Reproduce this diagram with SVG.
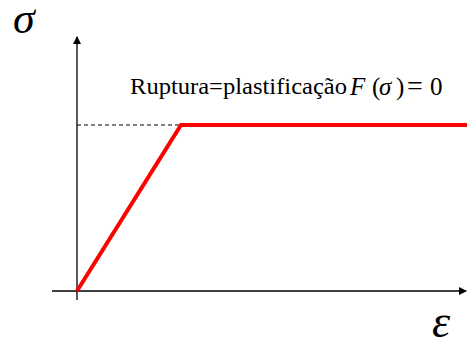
<svg xmlns="http://www.w3.org/2000/svg" width="467" height="343" viewBox="0 0 467 343">
<style>
.ax{stroke:#000;stroke-width:1.3;fill:none}
.t{font-family:"Liberation Serif","Times New Roman",serif;fill:#000}
.i{font-style:italic}
</style>
<defs>
<marker id="ah" markerWidth="8" markerHeight="8" refX="7" refY="4" orient="auto" markerUnits="userSpaceOnUse">
<path d="M0,0 L8,4 L0,8 Z" fill="#000"/>
</marker>
</defs>
<rect width="467" height="343" fill="#fff"/>
<g id="connectors">
<line class="ax" x1="77" y1="300" x2="77" y2="37" marker-end="url(#ah)"/>
<line class="ax" x1="52" y1="291" x2="466" y2="291" marker-end="url(#ah)"/>
<line x1="77" y1="125" x2="181" y2="125" stroke="#000" stroke-width="1" stroke-dasharray="4,3"/>
<polyline points="77,291 181,125 467,125" fill="none" stroke="#ff0000" stroke-width="4"/>
</g>
<g id="sigma"><text class="t i" x="13" y="33" font-size="44">σ</text></g>
<g id="epsilon"><text class="t i" x="432" y="337" font-size="46">ε</text></g>
<g id="label">
<text class="t" x="130" y="94" font-size="24" textLength="217" lengthAdjust="spacingAndGlyphs">Ruptura=plastificação</text>
<text class="t" y="95" font-size="25"><tspan class="i" x="350">F</tspan><tspan x="372">(</tspan><tspan class="i" x="379">σ</tspan><tspan x="396">)</tspan><tspan x="407" font-size="28">=</tspan><tspan x="430">0</tspan></text>
</g>
</svg>
